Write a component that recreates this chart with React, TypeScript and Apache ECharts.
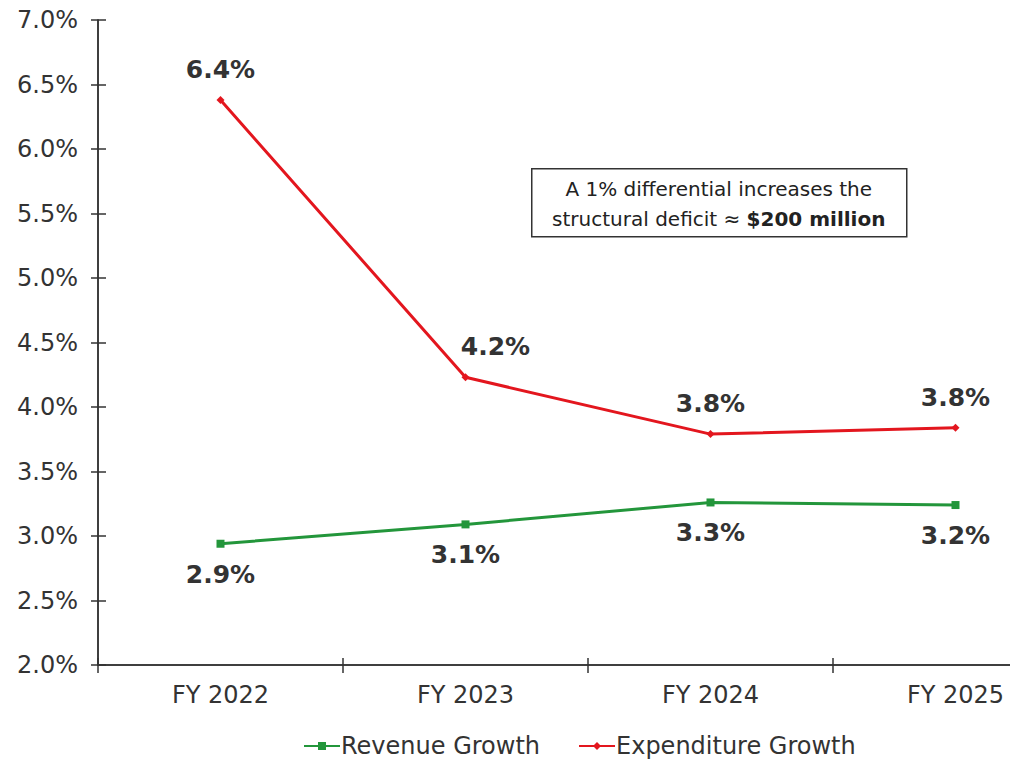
import React, { useEffect, useRef } from "react";
import * as echarts from "echarts";

const categories = ["FY 2022", "FY 2023", "FY 2024", "FY 2025"];
const revenueGrowth = [2.94, 3.09, 3.26, 3.24];
const expenditureGrowth = [6.38, 4.23, 3.79, 3.84];
const revenueLabels = ["2.9%", "3.1%", "3.3%", "3.2%"];
const expenditureLabels = ["6.4%", "4.2%", "3.8%", "3.8%"];
const yMin = 2.0;
const yMax = 7.0;
const yStep = 0.5;

const FONT = "DejaVu Sans, Verdana, sans-serif";
const RED = "#e3161e";
const GREEN = "#23963b";
const AXIS = "#333333";

export default function App() {
  const ref = useRef<HTMLDivElement>(null);
  useEffect(() => {
    if (!ref.current) return;
    const chart = echarts.init(ref.current, undefined, { renderer: "svg" });
    const labelStyle = {
      show: true,
      fontFamily: FONT,
      fontSize: 25,
      fontWeight: "bold" as const,
      color: "#333333",
    };
    const yBase = {
      type: "value" as const,
      min: yMin,
      max: yMax,
      interval: yStep,
      position: "left" as const,
      splitLine: { show: false },
      axisLine: { show: true, lineStyle: { color: AXIS, width: 1.5 } },
    };
    const xBase = {
      type: "category" as const,
      data: categories,
      boundaryGap: true,
      position: "bottom" as const,
      axisLine: { show: true, lineStyle: { color: AXIS, width: 1.5 } },
    };
    chart.setOption({
      animation: false,
      backgroundColor: "#ffffff",
      grid: { left: 98, top: 20, bottom: 98, width: 980, containLabel: false },
      legend: {
        bottom: 0,
        left: 298,
        itemWidth: 36,
        itemHeight: 10,
        itemGap: 38,
        textStyle: { fontFamily: FONT, fontSize: 24, color: "#333333", padding: [0, 0, 0, -4] },
        data: ["Revenue Growth", "Expenditure Growth"],
      },
      xAxis: [
        {
          ...xBase,
          axisTick: { show: true, inside: false, length: 8, lineStyle: { color: AXIS, width: 1.5 } },
          axisLabel: {
            fontFamily: FONT,
            fontSize: 24,
            color: "#333333",
            margin: 18,
          },
        },
        {
          ...xBase,
          axisTick: { show: true, inside: true, length: 7, lineStyle: { color: AXIS, width: 1.5 } },
          axisLabel: { show: false },
        },
      ],
      yAxis: [
        {
          ...yBase,
          axisTick: { show: true, inside: false, length: 7, lineStyle: { color: AXIS, width: 1.5 } },
          axisLabel: {
            fontFamily: FONT,
            fontSize: 24,
            color: "#333333",
            margin: 20,
            formatter: (v: number) => v.toFixed(1) + "%",
          },
        },
        {
          ...yBase,
          axisTick: { show: true, inside: true, length: 8, lineStyle: { color: AXIS, width: 1.5 } },
          axisLabel: { show: false },
        },
      ],
      series: [
        {
          name: "Revenue Growth",
          type: "line",
          data: revenueGrowth,
          symbol: "rect",
          symbolSize: 8,
          itemStyle: { color: GREEN },
          lineStyle: { color: GREEN, width: 3 },
          label: {
            ...labelStyle,
            position: "bottom",
            distance: 14,
            formatter: (p: any) => revenueLabels[p.dataIndex],
          },
        },
        {
          name: "Expenditure Growth",
          type: "line",
          data: expenditureGrowth.map((v, i) =>
            i === 1 ? { value: v, label: { offset: [30, 0] } } : v
          ),
          symbol: "diamond",
          symbolSize: 8,
          itemStyle: { color: RED },
          lineStyle: { color: RED, width: 3 },
          label: {
            ...labelStyle,
            position: "top",
            distance: 14,
            formatter: (p: any) => expenditureLabels[p.dataIndex],
          },
        },
      ],
      graphic: [
        {
          type: "group",
          left: 531,
          top: 168,
          children: [
            {
              type: "rect",
              shape: { x: 0, y: 0, width: 375, height: 68 },
              style: { fill: "#ffffff", stroke: "#333333", lineWidth: 1.5 },
            },
            {
              type: "text",
              x: 187,
              y: 35,
              style: {
                text: "A 1% differential increases the\n{n|structural deficit ≈ }{b|$200 million}",
                fontFamily: FONT,
                fontSize: 20,
                fill: "#222222",
                align: "center",
                verticalAlign: "middle",
                lineHeight: 30,
                rich: {
                  n: { fontFamily: FONT, fontSize: 20, fill: "#222222", lineHeight: 30 },
                  b: { fontFamily: FONT, fontSize: 20, fontWeight: "bold", fill: "#222222", lineHeight: 30 },
                },
              },
            },
          ],
        },
      ],
    });
    return () => chart.dispose();
  }, []);
  return (
    <div style={{ position: "fixed", left: 0, top: 0, width: 1010, height: 763, overflow: "hidden", background: "#fff" }}>
      <div ref={ref} style={{ width: 1078, height: 763 }} />
    </div>
  );
}
